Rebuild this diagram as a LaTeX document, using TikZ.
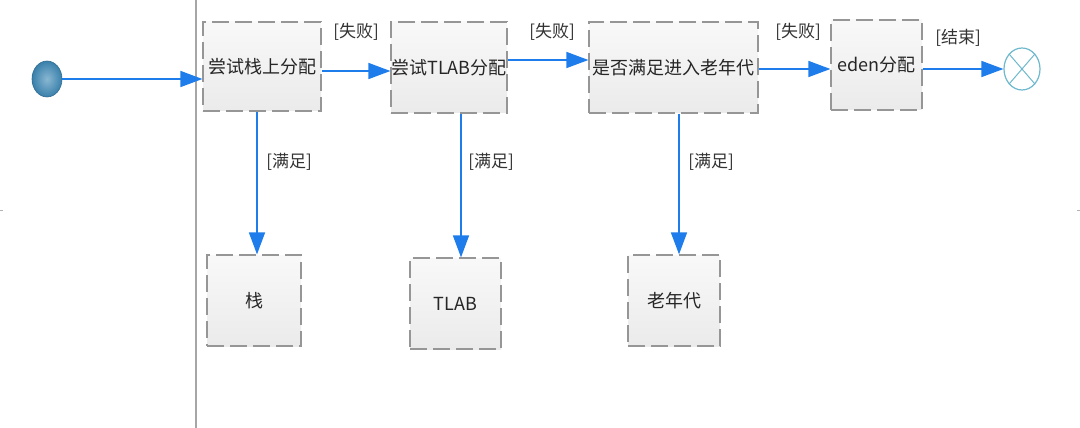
\documentclass[tikz,border=0pt]{standalone}
\usepackage{fontspec}
\setmainfont{Noto Sans CJK SC}
\usetikzlibrary{arrows.meta,shapes.geometric,calc}
\definecolor{arrblue}{RGB}{30,125,235}
\definecolor{boxedge}{RGB}{150,150,150}
\definecolor{startblue}{RGB}{60,135,180}
\definecolor{endcyan}{RGB}{110,185,205}
\begin{document}
\begin{tikzpicture}[x=1pt,y=-1pt,
  actbox/.style={draw=boxedge,dashed,dash pattern=on 17pt off 6pt,line width=1.2pt,
    top color=gray!5,bottom color=gray!16,inner sep=0pt,
    font=\fontsize{18}{21}\selectfont,text=black!85},
  guard/.style={font=\fontsize{17}{20}\selectfont,text=black!80,inner sep=0pt},
  arr/.style={draw=arrblue,line width=1.5pt,-{Triangle[length=22pt,width=16pt]}}]
\useasboundingbox (0,0) rectangle (1080,428);
\fill[white] (0,0) rectangle (1080,428);
% swimlane line
\draw[gray!70,line width=1.8pt] (196,0) -- (196,428);
\draw[gray!60,line width=1pt] (0,210) -- (3,210);
\draw[gray!60,line width=1pt] (1077,210) -- (1080,210);
% start / end
\node[ellipse,minimum width=30pt,minimum height=36pt,inner sep=0pt,
  draw=startblue!80!black,line width=0.6pt,inner color=startblue!60,outer color=startblue!95!black] (start) at (47,79) {};
\node[ellipse,draw=endcyan,line width=1.2pt,minimum width=36pt,minimum height=42pt,inner sep=0pt] (end) at (1022,69) {};
\draw[endcyan,line width=1pt] (end.north west) -- (end.south east);
\draw[endcyan,line width=1pt] (end.north east) -- (end.south west);
% top row
\node[actbox,minimum width=118pt,minimum height=89pt] (b1) at (262,66.5) {尝试栈上分配};
\node[actbox,minimum width=116pt,minimum height=91pt] (b2) at (449,67.5) {尝试TLAB分配};
\node[actbox,minimum width=169pt,minimum height=91pt] (b3) at (673.5,67.5) {是否满足进入老年代};
\node[actbox,minimum width=91pt,minimum height=90pt] (b4) at (876.5,65) {eden分配};
% bottom row
\node[actbox,minimum width=94pt,minimum height=91pt] (s1) at (254,300.5) {栈};
\node[actbox,minimum width=91pt,minimum height=91pt] (s2) at (455.5,303.5) {TLAB};
\node[actbox,minimum width=92pt,minimum height=91pt] (s3) at (674,300.5) {老年代};
% horizontal arrows
\draw[arr] (start.east) -- (b1.west |- start.east);
\draw[arr] ([yshift=-4.5pt]b1.east) -- ([yshift=-3.5pt]b2.west);
\draw[arr] ([yshift=7.5pt]b2.east) -- ([yshift=7.5pt]b3.west);
\draw[arr] ([yshift=-1.5pt]b3.east) -- ([yshift=-4pt]b4.west);
\draw[arr] ([yshift=-4pt]b4.east) -- (end.west);
% vertical arrows
\draw[arr] ([xshift=-5pt]b1.south) -- ([xshift=3pt]s1.north);
\draw[arr] ([xshift=12pt]b2.south) -- ([xshift=5.5pt]s2.north);
\draw[arr] ([xshift=5.5pt]b3.south) -- ([xshift=5pt]s3.north);
% guards
\node[guard] (g1) at (356,32) {[失败]};
\node[guard] (g2) at (552,32) {[失败]};
\node[guard] (g3) at (798,32) {[失败]};
\node[guard] (g4) at (958,38) {[结束]};
\node[guard] (g5) at (289,162) {[满足]};
\node[guard] (g6) at (491,162) {[满足]};
\node[guard] (g7) at (711,162) {[满足]};
\end{tikzpicture}
\end{document}
